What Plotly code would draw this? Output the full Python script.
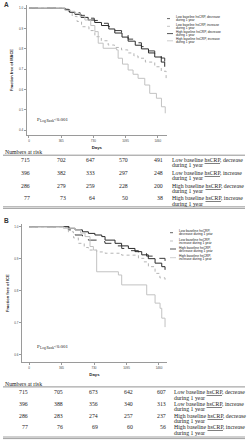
import plotly.graph_objects as go

W, H = 248, 440

# ---------------- Data: panel A (MACE) ----------------
tick_days = [0, 365, 730, 1095, 1460]
groups = ["Low baseline <u>hsCRP</u>, decrease", "Low baseline <u>hsCRP</u>, increase",
          "High baseline <u>hsCRP</u>, decrease", "High baseline <u>hsCRP</u>, increase"]
groups_plain = ["Low baseline hsCRP, decrease", "Low baseline hsCRP, increase",
                "High baseline hsCRP, decrease", "High baseline hsCRP, increase"]

a_low_dec_days = [0, 407, 450, 521, 580, 671, 740, 822, 900, 973, 1050, 1124, 1200, 1275, 1350, 1426, 1500, 1539]
a_low_dec_surv = [1.0, 0.995, 0.985, 0.978, 0.965, 0.951, 0.94, 0.926, 0.91, 0.89, 0.868, 0.848, 0.83, 0.811, 0.79, 0.77, 0.755, 0.737]
a_low_inc_days = [0, 400, 445, 490, 545, 596, 680, 747, 820, 898, 970, 1049, 1120, 1190, 1237, 1320, 1426, 1500, 1555]
a_low_inc_surv = [1.0, 0.995, 0.984, 0.96, 0.935, 0.909, 0.89, 0.86, 0.84, 0.819, 0.807, 0.795, 0.78, 0.765, 0.754, 0.735, 0.712, 0.69, 0.655]
a_high_dec_days = [0, 410, 460, 521, 590, 671, 745, 822, 905, 973, 1055, 1124, 1205, 1275, 1355, 1426, 1500, 1539]
a_high_dec_surv = [1.0, 0.993, 0.98, 0.97, 0.955, 0.942, 0.93, 0.915, 0.898, 0.878, 0.858, 0.838, 0.818, 0.8, 0.78, 0.76, 0.735, 0.712]
a_high_inc_days = [0, 407, 470, 521, 580, 634, 700, 747, 785, 841, 992, 1011, 1060, 1124, 1180, 1237, 1313, 1369, 1445, 1502, 1545]
a_high_inc_surv = [1.0, 0.99, 0.985, 0.975, 0.96, 0.942, 0.915, 0.885, 0.828, 0.803, 0.795, 0.754, 0.725, 0.696, 0.675, 0.655, 0.622, 0.581, 0.557, 0.515, 0.483]

a_risk = [[715, 702, 647, 570, 491],
          [396, 382, 333, 297, 248],
          [286, 279, 259, 228, 200],
          [77, 73, 64, 50, 38]]

# ---------------- Data: panel B (ICE) ----------------
b_low_dec_days = [0, 442, 517, 600, 667, 760, 854, 950, 1041, 1130, 1229, 1320, 1416, 1528]
b_low_dec_surv = [1.0, 0.99, 0.974, 0.965, 0.958, 0.953, 0.948, 0.94, 0.932, 0.925, 0.917, 0.908, 0.901, 0.893]
b_low_inc_days = [0, 442, 500, 554, 620, 667, 760, 854, 1041, 1229, 1290, 1341, 1416, 1470, 1528]
b_low_inc_surv = [1.0, 0.984, 0.965, 0.948, 0.935, 0.927, 0.921, 0.917, 0.911, 0.901, 0.89, 0.875, 0.854, 0.84, 0.828]
b_high_dec_days = [0, 450, 517, 600, 667, 740, 817, 854, 966, 1040, 1116, 1190, 1266, 1340, 1416, 1491, 1528]
b_high_dec_surv = [1.0, 0.995, 0.99, 0.984, 0.979, 0.974, 0.969, 0.958, 0.948, 0.94, 0.932, 0.922, 0.912, 0.9, 0.886, 0.875, 0.865]
b_high_inc_days = [0, 386, 517, 580, 629, 685, 723, 760, 1004, 1041, 1322, 1416, 1472, 1491, 1528]
b_high_inc_surv = [1.0, 0.995, 0.99, 0.98, 0.969, 0.938, 0.927, 0.859, 0.849, 0.818, 0.787, 0.761, 0.745, 0.714, 0.686]

b_risk = [[715, 705, 673, 642, 607],
          [396, 388, 356, 340, 313],
          [286, 283, 274, 257, 237],
          [77, 76, 69, 60, 56]]

# ---------------- Styles ----------------
styles = [dict(color="#3c3c3c", dash="dash", width=1),
          dict(color="#b4b4b4", dash="dot", width=1),
          dict(color="#2a2a2a", dash="solid", width=1),
          dict(color="#c2c2c2", dash="solid", width=1)]


def px(x):
    return x / W


def py(y):
    return 1 - y / H


fig = go.Figure()

a_curves = [(a_low_dec_days, a_low_dec_surv), (a_low_inc_days, a_low_inc_surv),
            (a_high_dec_days, a_high_dec_surv), (a_high_inc_days, a_high_inc_surv)]
b_curves = [(b_low_dec_days, b_low_dec_surv), (b_low_inc_days, b_low_inc_surv),
            (b_high_dec_days, b_high_dec_surv), (b_high_inc_days, b_high_inc_surv)]

for (d, s), st in zip(a_curves, styles):
    fig.add_trace(go.Scatter(x=d, y=s, mode="lines", line=dict(shape="hv", **st),
                             xaxis="x", yaxis="y", showlegend=False, hoverinfo="skip"))
for (d, s), st in zip(b_curves, styles):
    fig.add_trace(go.Scatter(x=d, y=s, mode="lines", line=dict(shape="hv", **st),
                             xaxis="x2", yaxis="y2", showlegend=False, hoverinfo="skip"))

axis_common = dict(showline=True, linecolor="#9a9a9a", linewidth=1, ticks="outside",
                   ticklen=2, tickcolor="#9a9a9a", tickwidth=1, showgrid=False, zeroline=False,
                   tickfont=dict(family="Liberation Sans", size=3, color="#444"))

title_font = dict(family="Liberation Sans", size=4, color="#222")

fig.update_layout(
    width=W, height=H, margin=dict(l=0, r=0, t=0, b=0),
    paper_bgcolor="white", plot_bgcolor="white",
    xaxis=dict(domain=[px(26.7), px(167)], range=[-26, 1565], tickvals=tick_days,
               anchor="y", title=dict(text="<b>Days</b>", standoff=4, font=dict(title_font, size=4.3)),
               **axis_common),
    yaxis=dict(domain=[py(135), py(5)], range=[0.376, 1.016],
               tickvals=[0.4, 0.5, 0.6, 0.7, 0.8, 0.9, 1.0], tickformat=".1f",
               anchor="x", title=dict(text="<b>Fraction free of MACE</b>", standoff=5, font=title_font),
               **axis_common),
    xaxis2=dict(domain=[px(22), px(167)], range=[-79, 1550], tickvals=tick_days,
                anchor="y2", title=dict(text="<b>Days</b>", standoff=4, font=dict(title_font, size=4.3)),
                **axis_common),
    yaxis2=dict(domain=[py(362.3), py(224)], range=[0.576, 1.0084],
                tickvals=[0.6, 0.7, 0.8, 0.9, 1.0], tickformat=".1f",
                anchor="x2", title=dict(text="<b>Fraction free of ICE</b>", standoff=4, font=dict(title_font, size=4.1)),
                **axis_common),
)

ann = []
shapes = []


def text(x, y, t, size, family="Liberation Sans", color="#222", xanchor="left", bold=False, angle=0):
    if bold:
        t = "<b>" + t + "</b>"
    ann.append(dict(x=px(x), y=py(y), xref="paper", yref="paper", text=t, showarrow=False,
                    xanchor=xanchor, yanchor="middle", textangle=angle,
                    font=dict(family=family, size=size, color=color)))


def hline(x0, x1, y, color="#777", width=0.8):
    shapes.append(dict(type="line", xref="paper", yref="paper", x0=px(x0), x1=px(x1),
                       y0=py(y), y1=py(y), line=dict(color=color, width=width)))


# Panel labels
text(2, 5, "A", 6.5, bold=True, color="#333")
text(2, 220, "B", 6.5, bold=True, color="#333")

# P values (P, subscript, value as separate texts)
for yy in (120, 346.5):
    text(35, yy, "P", 5, family="Liberation Serif")
    text(37.8, yy + 1.1, "Log Rank", 3.5, family="Liberation Serif")
    text(51.6, yy, "<0.001", 5, family="Liberation Serif")

# Legends (drawn manually)
a_leg_y = [18.6, 26.3, 33.6, 40.8]
for i, yy in enumerate(a_leg_y):
    st = styles[i]
    shapes.append(dict(type="line", xref="paper", yref="paper", x0=px(167), x1=px(173),
                       y0=py(yy), y1=py(yy), line=dict(color=st["color"], dash="solid" if st["dash"] == "solid" else "dot", width=0.8)))
    text(174, yy - 1.4, groups_plain[i], 3.2, color="#222")
    text(174, yy + 1.4, "during 1 year", 3.2, color="#222")

b_leg_y = [232.7, 241, 249, 257.7]
for i, yy in enumerate(b_leg_y):
    st = styles[i]
    shapes.append(dict(type="line", xref="paper", yref="paper", x0=px(170), x1=px(176),
                       y0=py(yy), y1=py(yy), line=dict(color=st["color"], dash="solid" if st["dash"] == "solid" else "dot", width=0.8)))
    first, second = groups_plain[i].split(", ")
    text(177, yy - 1.5, first + ",", 3.3, color="#222")
    text(177, yy + 1.5, second + " during 1 year", 3.3, color="#222")

# Numbers at risk tables
serif = "Liberation Serif"
tsize = 5.8

# Table A
text(3, 151.7, "Numbers at risk", tsize, family=serif)
hline(3, 245, 155.2)
a_cols = [32, 68, 97, 130, 165]
a_rows = [160, 172.8, 185.8, 198.3]
for r, yy in enumerate(a_rows):
    for c, xx in enumerate(a_cols):
        text(xx, yy, str(a_risk[r][c]), tsize, family=serif, xanchor="right")
    text(170, yy, groups[r], tsize, family=serif)
    text(170, yy + 5.3, "during 1 year", tsize, family=serif)
hline(3, 245, 206.8, color="#888", width=0.8)
hline(3, 245, 208.4, color="#888", width=0.8)

# Table B
text(3, 384, "Numbers at risk", tsize, family=serif)
hline(3, 245, 386.9)
b_cols = [29.5, 65, 100, 135, 168.3]
b_rows = [392.3, 403.6, 415.6, 427.3]
for r, yy in enumerate(b_rows):
    for c, xx in enumerate(b_cols):
        text(xx, yy, str(b_risk[r][c]), tsize, family=serif, xanchor="right")
    text(171.7, yy, groups[r], tsize, family=serif)
    text(171.7, yy + 5.5, "during 1 year", tsize, family=serif)
hline(3, 245, 437, color="#888", width=0.8)
hline(3, 245, 438.6, color="#888", width=0.8)

fig.update_layout(annotations=ann, shapes=shapes)
fig.write_html("out.html")
